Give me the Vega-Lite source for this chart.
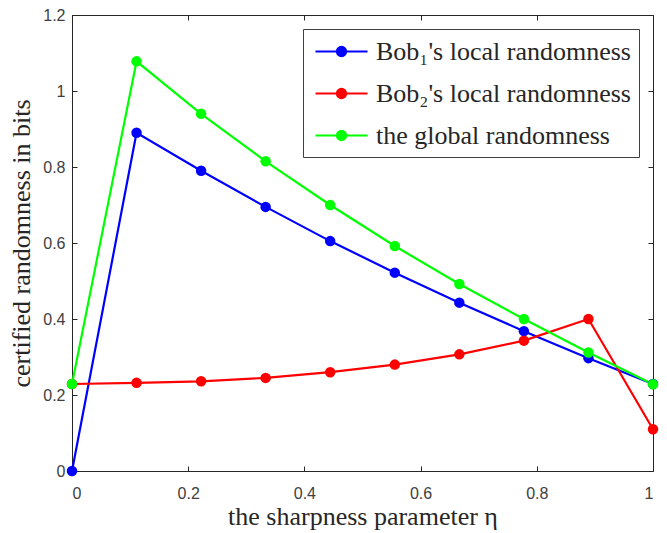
{
  "$schema": "https://vega.github.io/schema/vega-lite/v6.json",
  "autosize": "none",
  "width": 581,
  "height": 456,
  "padding": {"left": 72, "top": 15, "right": 14, "bottom": 62},
  "background": "white",
  "config": {
    "view": {"stroke": "#262626", "strokeWidth": 1},
    "axis": {
      "grid": false,
      "domainColor": "#262626",
      "tickColor": "#262626",
      "tickSize": -5,
      "labelFont": "Liberation Sans",
      "labelFontSize": 16,
      "labelColor": "#404040",
      "format": ".1~f",
      "titleFont": "Liberation Serif",
      "titleFontSize": 26,
      "titleFontWeight": "normal",
      "titleColor": "#262626"
    }
  },
  "data": {
    "values": [
      {"eta": 0, "v": 0, "s": "Bob₁'s local randomness"},
      {"eta": 0.1111, "v": 0.89, "s": "Bob₁'s local randomness"},
      {"eta": 0.2222, "v": 0.79, "s": "Bob₁'s local randomness"},
      {"eta": 0.3333, "v": 0.695, "s": "Bob₁'s local randomness"},
      {"eta": 0.4444, "v": 0.605, "s": "Bob₁'s local randomness"},
      {"eta": 0.5556, "v": 0.522, "s": "Bob₁'s local randomness"},
      {"eta": 0.6667, "v": 0.443, "s": "Bob₁'s local randomness"},
      {"eta": 0.7778, "v": 0.368, "s": "Bob₁'s local randomness"},
      {"eta": 0.8889, "v": 0.297, "s": "Bob₁'s local randomness"},
      {"eta": 1, "v": 0.229, "s": "Bob₁'s local randomness"},
      {"eta": 0, "v": 0.229, "s": "Bob₂'s local randomness"},
      {"eta": 0.1111, "v": 0.232, "s": "Bob₂'s local randomness"},
      {"eta": 0.2222, "v": 0.236, "s": "Bob₂'s local randomness"},
      {"eta": 0.3333, "v": 0.245, "s": "Bob₂'s local randomness"},
      {"eta": 0.4444, "v": 0.26, "s": "Bob₂'s local randomness"},
      {"eta": 0.5556, "v": 0.28, "s": "Bob₂'s local randomness"},
      {"eta": 0.6667, "v": 0.307, "s": "Bob₂'s local randomness"},
      {"eta": 0.7778, "v": 0.343, "s": "Bob₂'s local randomness"},
      {"eta": 0.8889, "v": 0.40, "s": "Bob₂'s local randomness"},
      {"eta": 1, "v": 0.11, "s": "Bob₂'s local randomness"},
      {"eta": 0, "v": 0.229, "s": "the global randomness"},
      {"eta": 0.1111, "v": 1.078, "s": "the global randomness"},
      {"eta": 0.2222, "v": 0.94, "s": "the global randomness"},
      {"eta": 0.3333, "v": 0.815, "s": "the global randomness"},
      {"eta": 0.4444, "v": 0.70, "s": "the global randomness"},
      {"eta": 0.5556, "v": 0.592, "s": "the global randomness"},
      {"eta": 0.6667, "v": 0.492, "s": "the global randomness"},
      {"eta": 0.7778, "v": 0.40, "s": "the global randomness"},
      {"eta": 0.8889, "v": 0.312, "s": "the global randomness"},
      {"eta": 1, "v": 0.228, "s": "the global randomness"}
    ]
  },
  "layer": [
    {
      "mark": {"type": "line", "strokeWidth": 2.2},
      "encoding": {
        "x": {"field": "eta", "type": "quantitative", "scale": {"domain": [0, 1], "nice": false},
              "axis": {"orient": "bottom", "values": [0, 0.2, 0.4, 0.6, 0.8, 1], "title": "the sharpness parameter η", "labelPadding": 19, "titlePadding": 2}},
        "y": {"field": "v", "type": "quantitative", "scale": {"domain": [0, 1.2], "nice": false},
              "axis": {"orient": "left", "values": [0, 0.2, 0.4, 0.6, 0.8, 1, 1.2], "title": "certified randomness in bits", "labelPadding": 12, "titlePadding": 8}},
        "color": {"field": "s", "type": "nominal",
                  "scale": {"domain": ["Bob₁'s local randomness", "Bob₂'s local randomness", "the global randomness"], "range": ["#0000FF", "#FF0000", "#00FF00"]},
                  "legend": {
                    "title": null,
                    "orient": "top-right",
                    "offset": 14,
                    "fillColor": "white",
                    "strokeColor": "#404040",
                    "padding": 8,
                    "labelFont": "Liberation Serif",
                    "labelFontSize": 26,
                    "labelColor": "#262626",
                    "labelLimit": 400,
                    "rowPadding": 14,
                    "symbolType": "M-2,0H2M-0.35,0A0.35,0.35,0,1,1,0.35,0A0.35,0.35,0,1,1,-0.35,0",
                    "symbolSize": 676,
                    "symbolStrokeWidth": 2.2,
                    "symbolOffset": 16,
                    "labelOffset": 20
                  }}
      }
    },
    {
      "mark": {"type": "point", "filled": true, "size": 110, "opacity": 1},
      "encoding": {
        "x": {"field": "eta", "type": "quantitative", "axis": {"orient": "top", "values": [0, 0.2, 0.4, 0.6, 0.8, 1], "labels": false, "title": null, "domain": false}},
        "y": {"field": "v", "type": "quantitative", "axis": {"orient": "right", "values": [0, 0.2, 0.4, 0.6, 0.8, 1, 1.2], "labels": false, "title": null, "domain": false}},
        "color": {"field": "s", "type": "nominal"}
      }
    }
  ],
  "resolve": {"axis": {"x": "independent", "y": "independent"}}
}
